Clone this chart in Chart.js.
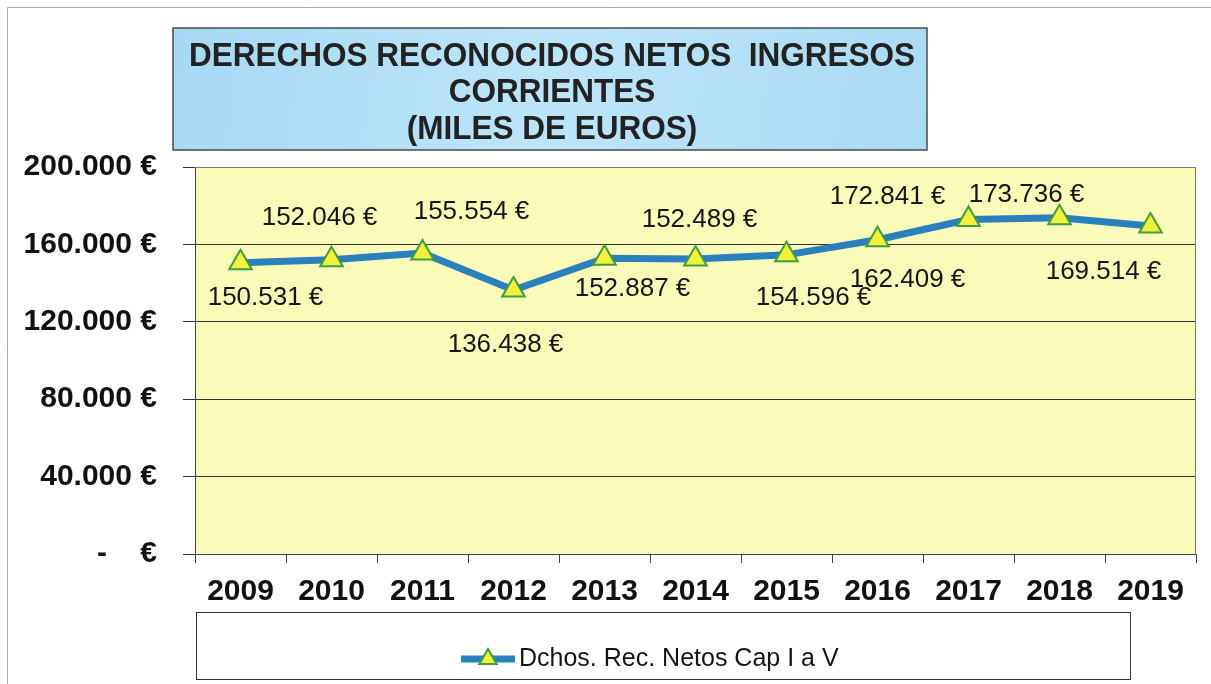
<!DOCTYPE html>
<html>
<head>
<meta charset="utf-8">
<title>Derechos reconocidos netos</title>
<script src="https://cdn.jsdelivr.net/npm/chart.js@4.4.1/dist/chart.umd.min.js"></script>
<style>
  html, body { margin: 0; padding: 0; background: #fff; overflow: hidden; }
  #wrap { position: relative; width: 1211px; height: 684px; }
  #chart { display: block; }
</style>
</head>
<body>
<div id="wrap"><canvas id="chart" width="1211" height="684"></canvas></div>
<script>
// Data (miles de euros)
const years = ['2009', '2010', '2011', '2012', '2013', '2014', '2015', '2016', '2017', '2018', '2019'];
const values = [150531, 152046, 155554, 136438, 152887, 152489, 154596, 162409, 172841, 173736, 169514];
const yTickLabels = ['-    €', '40.000 €', '80.000 €', '120.000 €', '160.000 €', '200.000 €'];
const seriesName = 'Dchos. Rec. Netos Cap I a V';
const titleLines = ['DERECHOS RECONOCIDOS NETOS  INGRESOS', 'CORRIENTES', '(MILES DE EUROS)'];

// where each value label sits relative to its point (px)
const labelOffsets = [[25, 35], [-12, -42], [49, -41], [-8, 55], [28, 31], [4, -39],
                      [27, 43], [30, 40], [-81, -23], [-33, -23], [-47, 46]];

const lineColor = '#2a7fbd';
const markerFill = '#f2f23c';
const markerBorder = '#3f9d3f';
const plotFill = '#fafab9';

function fmtEuro(v) {
  return String(v).replace(/\B(?=(\d{3})+(?!\d))/g, '.') + ' €';
}

const decorPlugin = {
  id: 'decor',
  beforeDraw(chart) {
    const ctx = chart.ctx;
    const a = chart.chartArea;
    ctx.save();
    ctx.fillStyle = '#fff';
    ctx.fillRect(0, 0, chart.width, chart.height);
    // scanned page edge
    ctx.strokeStyle = '#a8a8a8';
    ctx.lineWidth = 1;
    ctx.beginPath();
    ctx.moveTo(7.5, chart.height);
    ctx.lineTo(7.5, 7.5);
    ctx.lineTo(chart.width, 7.5);
    ctx.stroke();
    // plot background
    ctx.fillStyle = plotFill;
    ctx.fillRect(a.left, a.top, a.right - a.left, a.bottom - a.top);
    ctx.restore();
  },
  afterDatasetsDraw(chart) {
    const ctx = chart.ctx;
    const a = chart.chartArea;
    const meta = chart.getDatasetMeta(0);
    ctx.save();

    // plot frame (top / right)
    ctx.strokeStyle = '#7a7a7a';
    ctx.lineWidth = 1;
    ctx.beginPath();
    ctx.moveTo(a.left, a.top + 0.5);
    ctx.lineTo(a.right - 0.5, a.top + 0.5);
    ctx.lineTo(a.right - 0.5, a.bottom);
    ctx.stroke();

    // value labels
    ctx.font = '26px "Liberation Sans", Arial, sans-serif';
    ctx.fillStyle = '#151515';
    ctx.textAlign = 'center';
    ctx.textBaseline = 'middle';
    meta.data.forEach((pt, i) => {
      const off = labelOffsets[i];
      ctx.fillText(fmtEuro(values[i]), pt.x + off[0], pt.y + off[1]);
    });

    // title box
    const tx = 173, ty = 28, tw = 754, th = 122;
    const g = ctx.createLinearGradient(tx, ty, tx + tw, ty + th);
    g.addColorStop(0, '#a6d9f3');
    g.addColorStop(0.5, '#bde5f8');
    g.addColorStop(1, '#a9dbf3');
    ctx.fillStyle = g;
    ctx.fillRect(tx, ty, tw, th);
    ctx.strokeStyle = '#4a4a4a';
    ctx.lineWidth = 1.5;
    ctx.strokeRect(tx, ty, tw, th);

    ctx.font = 'bold 33px "Liberation Sans", Arial, sans-serif';
    ctx.fillStyle = '#222';
    const ratio = Math.min(1, 726 / ctx.measureText(titleLines[0]).width);
    const lineY = [57, 93, 130];
    titleLines.forEach((line, i) => {
      const w = ctx.measureText(line).width * ratio;
      ctx.fillText(line, 552, lineY[i], w);
    });

    // legend box
    const lx = 196.5, ly = 612.5, lw = 934, lh = 67;
    ctx.fillStyle = '#fff';
    ctx.fillRect(lx, ly, lw, lh);
    ctx.strokeStyle = '#333';
    ctx.lineWidth = 1;
    ctx.strokeRect(lx, ly, lw, lh);
    const my = 659;
    ctx.strokeStyle = lineColor;
    ctx.lineWidth = 7;
    ctx.beginPath();
    ctx.moveTo(461, my);
    ctx.lineTo(515, my);
    ctx.stroke();
    ctx.fillStyle = markerFill;
    ctx.strokeStyle = markerBorder;
    ctx.lineWidth = 2;
    Chart.helpers.drawPoint(ctx, { pointStyle: 'triangle', radius: 10, rotation: 0, borderWidth: 2 }, 488, my);
    ctx.font = '25px "Liberation Sans", Arial, sans-serif';
    ctx.fillStyle = '#151515';
    ctx.textAlign = 'left';
    ctx.fillText(seriesName, 519, my);

    ctx.restore();
  }
};

const ctx = document.getElementById('chart').getContext('2d');
new Chart(ctx, {
  type: 'line',
  data: {
    labels: years,
    datasets: [{
      label: seriesName,
      data: values,
      borderColor: lineColor,
      borderWidth: 7,
      tension: 0,
      fill: false,
      pointStyle: 'triangle',
      pointRadius: 13,
      pointHoverRadius: 13,
      pointBackgroundColor: markerFill,
      pointBorderColor: markerBorder,
      pointBorderWidth: 2
    }]
  },
  options: {
    responsive: false,
    animation: false,
    devicePixelRatio: 1,
    layout: { padding: { left: 0, right: 9, top: 167, bottom: 70 } },
    plugins: {
      legend: { display: false },
      title: { display: false },
      tooltip: { enabled: false }
    },
    scales: {
      x: {
        offset: true,
        grid: { offset: true, drawOnChartArea: false, tickLength: 9, color: '#444' },
        border: { color: '#444' },
        ticks: {
          padding: 11,
          color: '#111',
          font: { family: '"Liberation Sans", Arial, sans-serif', size: 30, weight: 'bold' }
        },
        afterFit(scale) {
          scale.height = 60;
          scale.paddingLeft = 0;
          scale.paddingRight = 0;
        }
      },
      y: {
        min: 0,
        max: 200000,
        grid: { color: '#333', tickLength: 12 },
        border: { color: '#444' },
        ticks: {
          stepSize: 40000,
          padding: 26,
          color: '#111',
          font: { family: '"Liberation Sans", Arial, sans-serif', size: 30, weight: 'bold' },
          callback(value, index) { return yTickLabels[index]; }
        },
        afterFit(scale) { scale.width = 195; }
      }
    }
  },
  plugins: [decorPlugin]
});
</script>
</body>
</html>
